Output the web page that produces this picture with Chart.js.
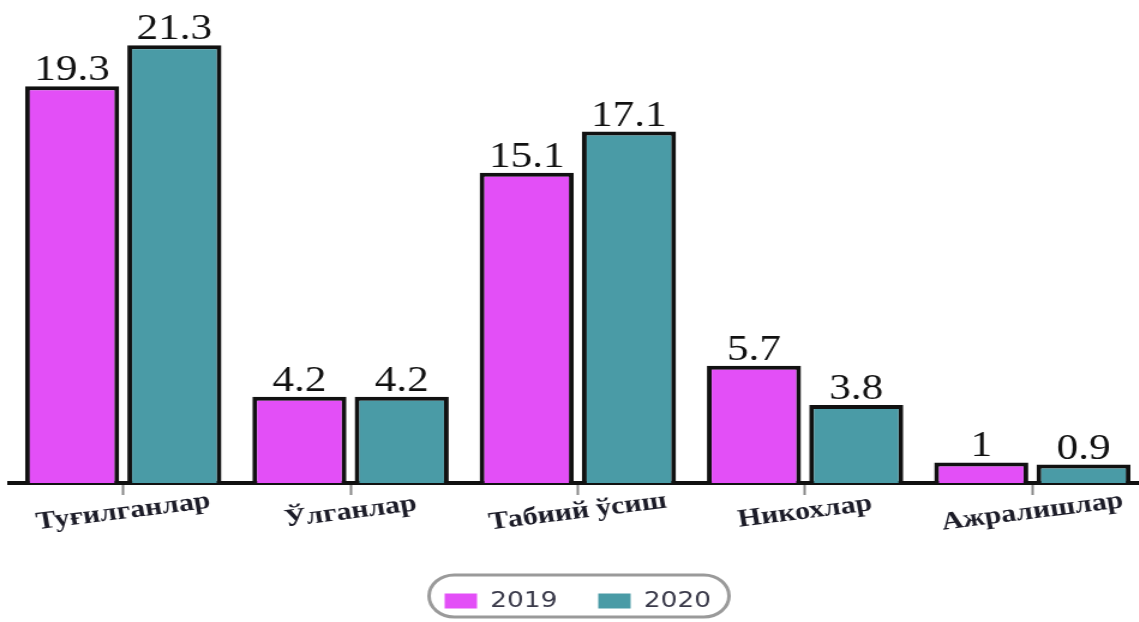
<!DOCTYPE html>
<html>
<head>
<meta charset="utf-8">
<script src="https://cdn.jsdelivr.net/npm/chart.js@4.4.0/dist/chart.umd.min.js"></script>
<style>
  html, body { margin: 0; padding: 0; background: #fff; overflow: hidden; }
  /* the reference is stretched sideways, so the whole canvas is too */
  #wrap { width: 958px; height: 622px; transform: scaleX(1.2); transform-origin: 0 0; }
</style>
</head>
<body>
<div id="wrap"><canvas id="statsChart" width="958" height="622"></canvas></div>
<script>
const categories = ['Туғилганлар', 'Ўлганлар', 'Табиий ўсиш', 'Никохлар', 'Ажралишлар'];
const seriesLabels = ['2019', '2020'];
const values2019 = [19.3, 4.2, 15.1, 5.7, 1];
const values2020 = [21.3, 4.2, 17.1, 3.8, 0.9];

// numbers above every bar
const valueLabels = {
  id: 'valueLabels',
  afterDatasetsDraw(chart) {
    const ctx = chart.ctx;
    ctx.save();
    ctx.font = '36px "Liberation Serif"';
    ctx.fillStyle = '#111';
    ctx.textAlign = 'center';
    ctx.textBaseline = 'alphabetic';
    chart.data.datasets.forEach((ds, i) => {
      chart.getDatasetMeta(i).data.forEach((bar, j) => {
        ctx.fillText(String(ds.data[j]), bar.x, bar.y - 6);
      });
    });
    ctx.restore();
  }
};

// slanted category names under the axis
const categoryLabels = {
  id: 'categoryLabels',
  afterDraw(chart) {
    const ctx = chart.ctx;
    const xScale = chart.scales.x;
    ctx.save();
    ctx.font = 'bold 25px "Liberation Serif"';
    ctx.fillStyle = '#1c1c28';
    ctx.textAlign = 'center';
    ctx.textBaseline = 'middle';
    chart.data.labels.forEach((label, i) => {
      ctx.save();
      ctx.translate(xScale.getPixelForValue(i), chart.chartArea.bottom + 29);
      ctx.rotate(-8.5 * Math.PI / 180);
      ctx.fillText(label, 0, 0);
      ctx.restore();
    });
    ctx.restore();
  }
};

// rounded frame around the legend
const legendPill = {
  id: 'legendPill',
  afterDraw(chart) {
    const boxes = chart.legend.legendHitBoxes;
    if (!boxes || !boxes.length) return;
    const first = boxes[0];
    const last = boxes[boxes.length - 1];
    const cy = first.top + first.height / 2;
    const left = first.left - 13;
    const right = last.left + last.width + 15;
    const top = cy - 26;
    const bottom = cy + 16;
    const r = (bottom - top) / 2;
    const ctx = chart.ctx;
    ctx.save();
    ctx.strokeStyle = '#9a9a9a';
    ctx.lineWidth = 3;
    ctx.beginPath();
    ctx.roundRect(left, top, right - left, bottom - top, r);
    ctx.stroke();
    ctx.restore();
  }
};

const ctx = document.getElementById('statsChart').getContext('2d');
new Chart(ctx, {
  type: 'bar',
  data: {
    labels: categories,
    datasets: [
      {
        label: seriesLabels[0],
        data: values2019,
        backgroundColor: '#e34ff7',
        borderColor: '#111',
        borderWidth: 4,
        categoryPercentage: 0.9,
        barPercentage: 0.92
      },
      {
        label: seriesLabels[1],
        data: values2020,
        backgroundColor: '#4a9ba6',
        borderColor: '#111',
        borderWidth: 4,
        categoryPercentage: 0.9,
        barPercentage: 0.92
      }
    ]
  },
  options: {
    responsive: false,
    animation: false,
    layout: { padding: { left: 8, right: 3, top: 0, bottom: 0 } },
    scales: {
      x: {
        grid: {
          display: true,
          drawOnChartArea: false,
          drawTicks: true,
          tickLength: 12,
          tickColor: '#888',
          tickWidth: 2,
          offset: false
        },
        border: { display: true, color: '#111', width: 4 },
        ticks: { display: false },
        afterFit(scale) { scale.height = 73; }
      },
      y: {
        display: false,
        min: 0,
        max: 23.5
      }
    },
    plugins: {
      tooltip: { enabled: false },
      legend: {
        position: 'bottom',
        labels: {
          boxWidth: 27,
          boxHeight: 15,
          padding: 34,
          color: '#3a3a4a',
          font: { family: '"DejaVu Sans"', size: 22 },
          generateLabels(chart) {
            const items = Chart.defaults.plugins.legend.labels.generateLabels(chart);
            items.forEach(it => { it.lineWidth = 0; it.strokeStyle = 'rgba(0,0,0,0)'; });
            return items;
          }
        }
      }
    }
  },
  plugins: [valueLabels, categoryLabels, legendPill]
});
</script>
</body>
</html>
